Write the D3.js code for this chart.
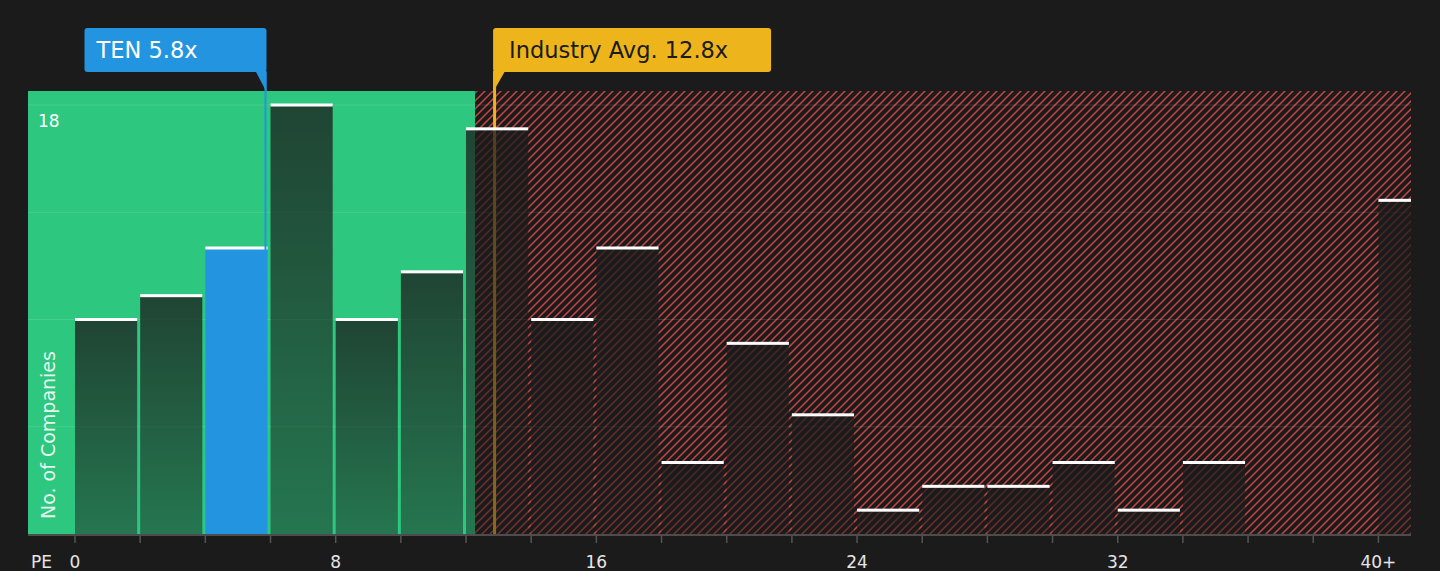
<!DOCTYPE html>
<html>
<head>
<meta charset="utf-8">
<script src="https://cdn.jsdelivr.net/npm/d3@7"></script>
<style>
  html, body { margin: 0; padding: 0; background: #1b1b1b; }
  svg { display: block; font-family: "DejaVu Sans", sans-serif; }
</style>
</head>
<body>
<svg id="chart"></svg>
<script>
// Chart data ------------------------------------------------------------------
const binStarts = [0, 2, 4, 6, 8, 10, 12, 14, 16, 18, 20, 22, 24, 26, 28, 30, 32, 34, 36, 38, 40];
const binCounts = [9, 10, 12, 18, 9, 11, 17, 9, 12, 3, 8, 5, 1, 2, 2, 3, 1, 3, 0, 0, 14];
const tickValues = [0, 8, 16, 24, 32, 40];
const tickLabels = ["0", "8", "16", "24", "32", "40+"];
const gridValues = [4.5, 9, 13.5, 18];
const yLabelValues = [18];
const companyPE = 5.8;
const companyName = "TEN";
const industryPE = 12.8;
const goodZoneEnd = 12.28;

// Layout ------------------------------------------------------------------------
const width = 1440;
const height = 571;
const plotLeft = 28;
const plotRight = 1411;
const plotTop = 91;
const plotBottom = 534;
const BIN_WIDTH = 2;
const BAR_GAP = 3;

const BG = '#1b1b1b';
const GREEN = '#2ec77f';
const RED = '#c94545';
const BLUE = '#2394e0';
const ORANGE = '#eeb41c';

const x = d3.scaleLinear().domain([0, 41]).range([75, plotRight]);
const y = d3.scaleLinear().domain([0, 18]).range([plotBottom, 105]);

const svg = d3.select('#chart')
    .attr('width', width)
    .attr('height', height)
    .attr('viewBox', [0, 0, width, height]);

const defs = svg.append('defs');

// diagonal red hatch for the "expensive" zone ("/" lines, 8px apart)
const HATCH = 8;
const hatch = defs.append('pattern')
    .attr('id', 'hatch')
    .attr('patternUnits', 'userSpaceOnUse')
    .attr('width', HATCH)
    .attr('height', HATCH);
hatch.append('rect').attr('width', HATCH).attr('height', HATCH).attr('fill', BG);
hatch.append('path')
    .attr('d', `M-2,${HATCH + 2}L${HATCH + 2},-2M-2,2L2,-2M${HATCH - 2},${HATCH + 2}L${HATCH + 2},${HATCH - 2}`)
    .attr('stroke', RED)
    .attr('stroke-width', 1.5);

const grad = defs.append('linearGradient')
    .attr('id', 'barFill')
    .attr('x1', 0).attr('y1', 0).attr('x2', 0).attr('y2', 1);
grad.append('stop').attr('offset', '0%').attr('stop-color', BG).attr('stop-opacity', 0.76);
grad.append('stop').attr('offset', '100%').attr('stop-color', BG).attr('stop-opacity', 0.47);

svg.append('rect').attr('width', width).attr('height', height).attr('fill', BG);

// Zones
svg.append('rect')
    .attr('x', plotLeft).attr('y', plotTop)
    .attr('width', x(goodZoneEnd) - plotLeft)
    .attr('height', plotBottom - plotTop)
    .attr('fill', GREEN);

svg.append('rect')
    .attr('x', x(goodZoneEnd)).attr('y', plotTop)
    .attr('width', plotRight - x(goodZoneEnd))
    .attr('height', plotBottom - plotTop)
    .attr('fill', 'url(#hatch)');

// Gridlines
svg.append('g')
    .selectAll('line')
    .data(gridValues)
    .join('line')
        .attr('x1', plotLeft).attr('x2', plotRight)
        .attr('y1', d => y(d)).attr('y2', d => y(d))
        .attr('stroke', 'rgba(255,255,255,0.12)')
        .attr('stroke-width', 1);

// Industry line sits behind the bars
svg.append('line')
    .attr('x1', x(industryPE) + 2.5).attr('x2', x(industryPE) + 2.5)
    .attr('y1', 72).attr('y2', plotBottom)
    .attr('stroke', ORANGE).attr('stroke-width', 3);

// Bars
const bins = binStarts.map((s, i) => ({start: s, count: binCounts[i]}));
const isCompanyBin = d => companyPE >= d.start && companyPE < d.start + BIN_WIDTH;
const barX = d => x(d.start);
const barW = d => Math.min(x(d.start + BIN_WIDTH) - BAR_GAP, plotRight) - x(d.start);

const bars = bins.filter(d => d.count > 0);

svg.append('g')
    .selectAll('rect')
    .data(bars)
    .join('rect')
        .attr('x', barX)
        .attr('y', d => y(d.count))
        .attr('width', barW)
        .attr('height', d => plotBottom - y(d.count))
        .attr('fill', d => isCompanyBin(d) ? BLUE : 'url(#barFill)');

svg.append('g')
    .selectAll('rect')
    .data(bars)
    .join('rect')
        .attr('x', barX)
        .attr('y', d => y(d.count) - 1.5)
        .attr('width', barW)
        .attr('height', 3)
        .attr('fill', '#fff');

// Company line
svg.append('line')
    .attr('x1', x(companyPE) + 1.5).attr('x2', x(companyPE) + 1.5)
    .attr('y1', 72).attr('y2', plotBottom)
    .attr('stroke', BLUE).attr('stroke-width', 2);

// X axis
svg.append('line')
    .attr('x1', plotLeft).attr('x2', plotRight)
    .attr('y1', plotBottom + 1).attr('y2', plotBottom + 1)
    .attr('stroke', '#4d4d4d').attr('stroke-width', 2);

svg.append('g')
    .selectAll('line')
    .data(binStarts)
    .join('line')
        .attr('x1', d => x(d)).attr('x2', d => x(d))
        .attr('y1', plotBottom + 2).attr('y2', plotBottom + 9)
        .attr('stroke', '#555').attr('stroke-width', 1.5);

svg.append('g')
    .selectAll('text')
    .data(tickValues)
    .join('text')
        .attr('x', d => x(d))
        .attr('y', 568)
        .attr('text-anchor', 'middle')
        .attr('fill', '#e6e6e6')
        .attr('font-size', 17)
        .text((d, i) => tickLabels[i]);

svg.append('text')
    .attr('x', 31).attr('y', 568)
    .attr('fill', '#e6e6e6')
    .attr('font-size', 17)
    .text('PE');

// Y labels
svg.append('g')
    .selectAll('text')
    .data(yLabelValues)
    .join('text')
        .attr('x', 38)
        .attr('y', d => y(d) + 22)
        .attr('fill', '#fff')
        .attr('font-size', 17)
        .text(d => d);

svg.append('text')
    .attr('transform', 'translate(55,519) rotate(-90)')
    .attr('fill', 'rgba(255,255,255,0.88)')
    .attr('font-size', 19)
    .text('No. of Companies');

// Callouts ------------------------------------------------------------------------
function callout(lineX, label, fill, textColor, side, boxW, padLeft) {
    const g = svg.append('g');
    const boxX = side === 'left' ? lineX - boxW : lineX;
    g.append('rect')
        .attr('x', boxX).attr('y', 28)
        .attr('width', boxW).attr('height', 44)
        .attr('rx', 3)
        .attr('fill', fill);
    const pts = side === 'left'
        ? [[lineX - 11, 71], [lineX, 71], [lineX, 92]]
        : [[lineX, 71], [lineX + 12, 71], [lineX, 92]];
    g.append('path')
        .attr('d', d3.line()(pts) + 'Z')
        .attr('fill', fill);
    g.append('text')
        .attr('x', boxX + padLeft)
        .attr('y', 58)
        .attr('font-size', 22.5)
        .attr('fill', textColor)
        .text(label);
}

callout(x(companyPE) + 2.5, `${companyName} ${companyPE}x`, BLUE, '#fff', 'left', 182, 12);
callout(x(industryPE) + 1, `Industry Avg. ${industryPE}x`, ORANGE, '#1b1b1b', 'right', 278, 16);
</script>
</body>
</html>
